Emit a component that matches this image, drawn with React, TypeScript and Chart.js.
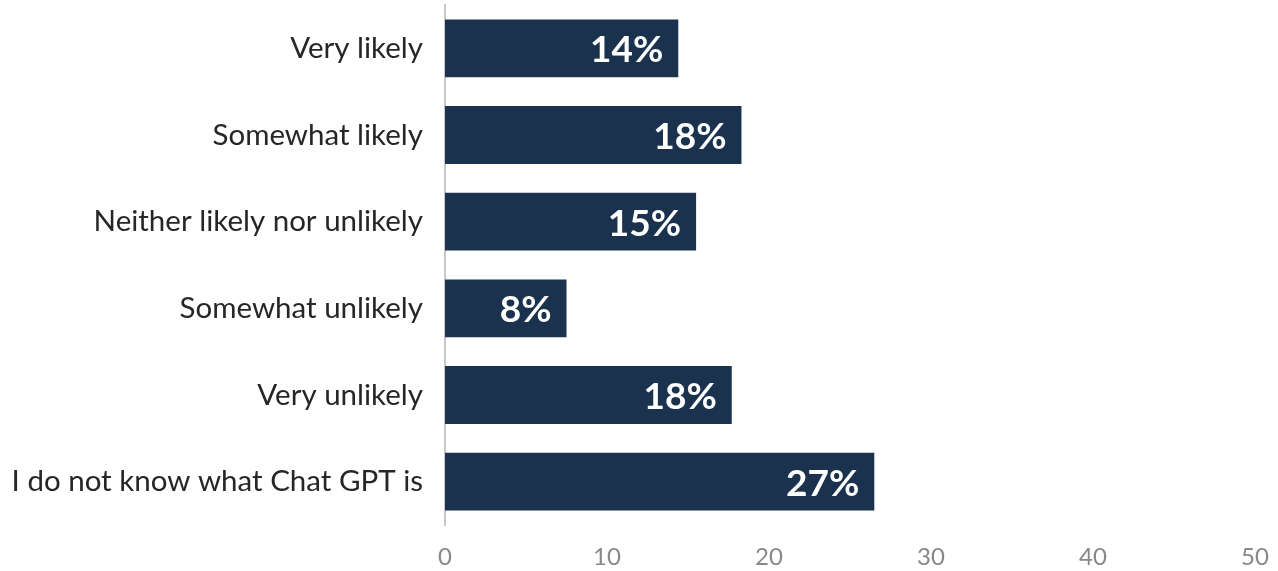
import React, { useEffect, useRef } from "react";
import { Chart, registerables } from "chart.js";

Chart.register(...registerables);

const categories = [
  "Very likely",
  "Somewhat likely",
  "Neither likely nor unlikely",
  "Somewhat unlikely",
  "Very unlikely",
  "I do not know what Chat GPT is",
];
const values = [14.4, 18.3, 15.5, 7.5, 17.7, 26.5];
const valueLabels = ["14%", "18%", "15%", "8%", "18%", "27%"];
const xTicks = [0, 10, 20, 30, 40, 50];

const barColor = "#1a324e";

const labelPlugin = {
  id: "barLabels",
  afterDatasetsDraw(chart: any) {
    const ctx = chart.ctx;
    const meta = chart.getDatasetMeta(0);
    ctx.save();
    ctx.fillStyle = "#ffffff";
    ctx.font = "bold 37px Lato";
    ctx.textAlign = "right";
    ctx.textBaseline = "middle";
    meta.data.forEach((bar: any, i: number) => {
      ctx.fillText(valueLabels[i], bar.x - 15, bar.y + 2);
    });
    ctx.restore();
  },
};

export default function App() {
  const ref = useRef<HTMLCanvasElement>(null);
  useEffect(() => {
    document.body.style.margin = "0";
    const chart = new Chart(ref.current!, {
      type: "bar",
      data: {
        labels: categories,
        datasets: [
          {
            data: values,
            backgroundColor: barColor,
            barPercentage: 0.667,
            categoryPercentage: 1,
          },
        ],
      },
      options: {
        indexAxis: "y",
        animation: false,
        responsive: false,
        maintainAspectRatio: false,
        layout: { padding: { top: 5, right: 23, left: 0, bottom: 0 } },
        plugins: { legend: { display: false }, tooltip: { enabled: false } },
        scales: {
          x: {
            min: 0,
            max: 50,
            afterBuildTicks: (axis: any) => {
              axis.ticks = xTicks.map((v) => ({ value: v }));
            },
            grid: { display: false },
            border: { display: false },
            ticks: {
              color: "#888888",
              font: { family: "Lato", size: 24 },
              padding: 10,
              maxRotation: 0,
            },
            afterFit: (axis: any) => {
              axis.height = 46;
              axis.paddingLeft = 0;
              axis.paddingRight = 0;
              axis.paddingTop = 0;
              axis.paddingBottom = 0;
            },
          },
          y: {
            grid: { display: false },
            border: { display: true, color: "#c8c8c8", width: 2 },
            ticks: {
              color: "#262626",
              font: { family: "Lato", size: 29.5 },
              padding: 14,
            },
            afterFit: (axis: any) => {
              axis.width = 445;
              axis.paddingLeft = 0;
              axis.paddingRight = 0;
              axis.paddingTop = 0;
              axis.paddingBottom = 0;
            },
          },
        },
      },
      plugins: [labelPlugin],
    });
    return () => chart.destroy();
  }, []);
  return (
    <div style={{ position: "absolute", left: 0, top: 0, width: 1278, height: 571 }}>
      <canvas ref={ref} width={1278} height={571} style={{ display: "block" }} />
    </div>
  );
}
